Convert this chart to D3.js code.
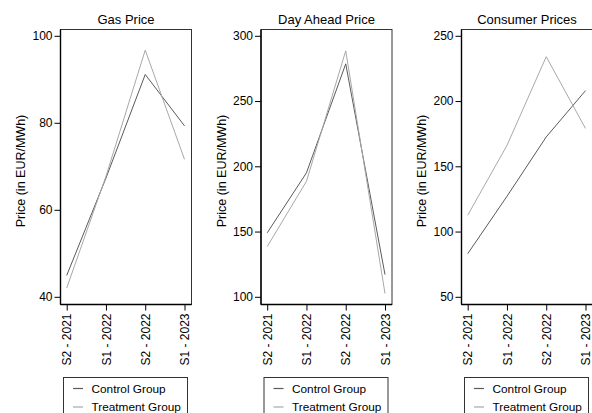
<!DOCTYPE html>
<html><head><meta charset="utf-8">
<script src="https://cdn.jsdelivr.net/npm/d3@7"></script>
<style>body{margin:0;background:#fff}svg{display:block}</style>
</head><body>
<script>
const periods = ["S2 - 2021", "S1 - 2022", "S2 - 2022", "S1 - 2023"];
const panelTitles = ["Gas Price", "Day Ahead Price", "Consumer Prices"];
const seriesNames = ["Control Group", "Treatment Group"];
const gasControl = [44.9, 67.3, 91.1, 79.3];
const gasTreatment = [42.0, 67.7, 96.7, 71.6];
const dayControl = [149, 195, 278.5, 117];
const dayTreatment = [138.5, 188.5, 288.5, 102.5];
const consumerControl = [83, 127, 172.5, 208];
const consumerTreatment = [112.5, 166, 234, 179];
const gasTicks = [40, 60, 80, 100];
const dayTicks = [100, 150, 200, 250, 300];
const consumerTicks = [50, 100, 150, 200, 250];
const yTitle = "Price (in EUR/MWh)";

const panels = [
  {title: panelTitles[0], ticks: gasTicks, series: [gasControl, gasTreatment]},
  {title: panelTitles[1], ticks: dayTicks, series: [dayControl, dayTreatment]},
  {title: panelTitles[2], ticks: consumerTicks, series: [consumerControl, consumerTreatment]}
];
const colors = ["#5a5a5a", "#a8a8a8"];
const font = "'Liberation Sans', Arial, Helvetica, sans-serif";

const svg = d3.select("body").append("svg").attr("width", 592).attr("height", 413)
  .style("font-family", font);

const box = {left: 60.5, right: 191.5, top: 29.5, bottom: 304.5};

panels.forEach((p, i) => {
  const g = svg.append("g").attr("transform", `translate(${i * 200.5},0)`);
  const x = d3.scalePoint().domain(periods).range([66.7, 184.5]);
  const y = d3.scaleLinear().domain(d3.extent(p.ticks)).range([296.8, 35.8]);

  // frame
  g.append("rect").attr("x", box.left).attr("y", box.top)
    .attr("width", box.right - box.left).attr("height", box.bottom - box.top)
    .attr("fill", "none").attr("stroke", "#333").attr("stroke-width", 1);

  // lines
  p.series.forEach((vals, k) => {
    g.append("path").datum(vals)
      .attr("d", d3.line().x((d, j) => x(periods[j])).y(d => y(d)))
      .attr("fill", "none").attr("stroke", colors[k]).attr("stroke-width", 1);
  });

  // y axis
  const ya = g.append("g").attr("transform", `translate(${box.left},0)`)
    .call(d3.axisLeft(y).tickValues(p.ticks).tickSize(6).tickPadding(2).tickFormat(d3.format("d")));
  ya.select(".domain").attr("d", `M0,${box.top}V${box.bottom}`).attr("stroke", "#000").attr("stroke-width", 1.4);
  ya.selectAll(".tick line").attr("stroke", "#000");
  ya.selectAll(".tick text").attr("font-size", 12).attr("font-family", font).attr("fill", "#000");

  // x axis
  const xa = g.append("g").attr("transform", `translate(0,${box.bottom})`)
    .call(d3.axisBottom(x).tickSize(6).tickPadding(2));
  xa.select(".domain").attr("d", `M${box.left},0H${box.right}`).attr("stroke", "#000").attr("stroke-width", 1.4);
  xa.selectAll(".tick line").attr("stroke", "#000");
  xa.selectAll(".tick text").attr("font-size", 12).attr("font-family", font).attr("fill", "#000")
    .attr("transform", "rotate(-90)").attr("text-anchor", "end")
    .attr("x", -9).attr("y", 0).attr("dy", "0.35em");

  // titles
  g.append("text").attr("x", (box.left + box.right) / 2).attr("y", 23.5)
    .attr("text-anchor", "middle").attr("font-size", 13).text(p.title);
  g.append("text").attr("transform", `translate(25,${(box.top + box.bottom) / 2 + 4}) rotate(-90)`)
    .attr("text-anchor", "middle").attr("font-size", 12.5).text(yTitle);

  // legend
  const lg = g.append("g");
  lg.append("rect").attr("x", 63.5).attr("y", 377.5).attr("width", 124).attr("height", 50)
    .attr("fill", "#fff").attr("stroke", "#333").attr("stroke-width", 1);
  seriesNames.forEach((n, k) => {
    const yy = 388.5 + k * 18.5;
    lg.append("line").attr("x1", 73).attr("x2", 83).attr("y1", yy).attr("y2", yy)
      .attr("stroke", colors[k]).attr("stroke-width", 1.2);
    lg.append("text").attr("x", 91.5).attr("y", yy).attr("dy", "0.35em")
      .attr("font-size", 11.8).text(n);
  });
});
</script>
</body></html>
